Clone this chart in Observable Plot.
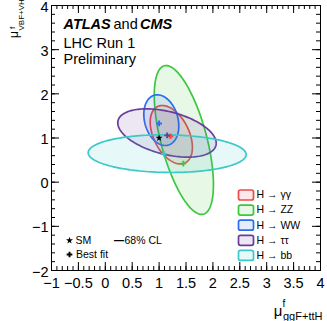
<!DOCTYPE html>
<html><head><meta charset="utf-8">
<script src="https://cdn.jsdelivr.net/npm/d3@7"></script>
<script src="https://cdn.jsdelivr.net/npm/@observablehq/plot@0.6"></script>
<style>body{margin:0;background:#fff}</style>
</head><body><div id="chart"></div>
<script>
// ---- data ----
const channels = ["H \u2192 \u03b3\u03b3", "H \u2192 ZZ", "H \u2192 WW", "H \u2192 \u03c4\u03c4", "H \u2192 bb"];
const colors = ["#ee4a4a", "#3cc83c", "#2a6ef2", "#6a3d9a", "#3cc8c8"];
// best-fit points (mu_ggF+ttH, mu_VBF+VH)
const bestGgF = [1.21, 1.45, 1.00, 1.15, 1.09];
const bestVBF = [1.04, 0.42, 1.33, 1.06, 0.64];
// 68% CL contours: centre, half-extent along each axis, correlation
const clCenterX = [1.227, 1.46, 1.041, 1.147, 1.15];
const clCenterY = [1.074, 0.955, 1.404, 1.113, 0.646];
const clHalfX = [0.392, 0.55, 0.325, 0.915, 1.468];
const clHalfY = [0.662, 1.685, 0.574, 0.547, 0.427];
const clRho = [-0.43, -0.60, -0.23, -0.42, -0.05];
// SM expectation
const smGgF = [1];
const smVBF = [1];
// axes
const xDomain = [-1, 4];
const yDomain = [-2, 4];
const xTickLabels = [-1, -0.5, 0, 0.5, 1, 1.5, 2, 2.5, 3, 3.5, 4];
const yTickLabels = [-2, -1, 0, 1, 2, 3, 4];

// ---- layout ----
const W = 327, H = 321, mL = 51, mR = 7, mT = 5, mB = 51;
const fW = W - mL - mR, fH = H - mT - mB;
const font = "'Liberation Sans', Arial, Helvetica, sans-serif";

function contour(i) {
  const pts = [], n = 160, r = clRho[i], q = Math.sqrt(1 - r * r);
  for (let k = 0; k <= n; k++) {
    const t = 2 * Math.PI * k / n, c = Math.cos(t), s = Math.sin(t);
    pts.push({x: clCenterX[i] + clHalfX[i] * c, y: clCenterY[i] + clHalfY[i] * (r * c + q * s)});
  }
  return pts;
}
const fmt = d => (d < 0 ? "\u2212" : "") + Math.abs(d);
const xMinor = d3.ticks(xDomain[0], xDomain[1], 50);
const yMinor = d3.ticks(yDomain[0], yDomain[1], 30);

const boxSymbol = {draw(ctx) {
  const w = 7.5, h = 5, r = 2;
  ctx.moveTo(-w + r, -h); ctx.lineTo(w - r, -h); ctx.arcTo(w, -h, w, -h + r, r);
  ctx.lineTo(w, h - r); ctx.arcTo(w, h, w - r, h, r);
  ctx.lineTo(-w + r, h); ctx.arcTo(-w, h, -w, h - r, r);
  ctx.lineTo(-w, -h + r); ctx.arcTo(-w, -h, -w + r, -h, r); ctx.closePath();
}};

const best = channels.map((c, i) => ({x: bestGgF[i], y: bestVBF[i], color: colors[i]}));
const sm = smGgF.map((x, i) => ({x, y: smVBF[i]}));

const marks = [];
channels.forEach((c, i) => {
  marks.push(Plot.line(contour(i), {x: "x", y: "y", stroke: colors[i], fill: colors[i], fillOpacity: 0.12, strokeWidth: 1.7}));
});
marks.push(Plot.dot(sm, {x: "x", y: "y", symbol: "star", fill: "black", r: 2.2}));
marks.push(Plot.dot(best, {x: "x", y: "y", symbol: "cross", fill: "color", r: 2.4}));
// ticks (ROOT style, inside, all four sides)
marks.push(
  Plot.ruleX(xMinor, {insetTop: fH - 4, stroke: "black"}),
  Plot.ruleX(xTickLabels, {insetTop: fH - 8, stroke: "black"}),
  Plot.ruleX(xMinor, {insetBottom: fH - 4, stroke: "black"}),
  Plot.ruleX(xTickLabels, {insetBottom: fH - 8, stroke: "black"}),
  Plot.ruleY(yMinor, {insetRight: fW - 4, stroke: "black"}),
  Plot.ruleY(yTickLabels, {insetRight: fW - 8, stroke: "black"}),
  Plot.ruleY(yMinor, {insetLeft: fW - 4, stroke: "black"}),
  Plot.ruleY(yTickLabels, {insetLeft: fW - 8, stroke: "black"}),
  Plot.frame({stroke: "black"}),
  Plot.axisX(xTickLabels, {tickSize: 0, tickPadding: 7, tickFormat: fmt, fontSize: 14.5, label: null}),
  Plot.axisY(yTickLabels, {tickSize: 0, tickPadding: 3, tickFormat: fmt, fontSize: 14.5, label: null, dy: 1.5})
);
// axis titles
marks.push(
  Plot.text(["\u03bc"], {frameAnchor: "bottom-right", text: d => d, dx: -42.5, dy: 41, fontSize: 15, textAnchor: "middle", lineAnchor: "middle"}),
  Plot.text(["f"], {frameAnchor: "bottom-right", text: d => d, dx: -36.5, dy: 33, fontSize: 10, textAnchor: "middle", lineAnchor: "middle"}),
  Plot.text(["ggF+ttH"], {frameAnchor: "bottom-right", text: d => d, dx: -37.5, dy: 45.5, fontSize: 11, textAnchor: "start", lineAnchor: "middle"}),
  Plot.text(["\u03bc"], {frameAnchor: "top-left", text: d => d, dx: -37.5, dy: 29, fontSize: 12, rotate: -90, textAnchor: "middle", lineAnchor: "middle"}),
  Plot.text(["f"], {frameAnchor: "top-left", text: d => d, dx: -39.5, dy: 22.5, fontSize: 8, rotate: -90, textAnchor: "middle", lineAnchor: "middle"}),
  Plot.text(["VBF+VH"], {frameAnchor: "top-left", text: d => d, dx: -30.5, dy: 25, fontSize: 8, rotate: -90, textAnchor: "start", lineAnchor: "middle"})
);
// experiment labels
marks.push(
  Plot.text(["ATLAS"], {frameAnchor: "top-left", text: d => d, dx: 12, dy: 19, fontSize: 14.5, fontWeight: "bold", fontStyle: "italic", textAnchor: "start", lineAnchor: "middle"}),
  Plot.text(["and"], {frameAnchor: "top-left", text: d => d, dx: 62, dy: 19, fontSize: 14.5, textAnchor: "start", lineAnchor: "middle"}),
  Plot.text(["CMS"], {frameAnchor: "top-left", text: d => d, dx: 88.5, dy: 19, fontSize: 14.5, fontWeight: "bold", fontStyle: "italic", textAnchor: "start", lineAnchor: "middle"}),
  Plot.text(["LHC Run 1"], {frameAnchor: "top-left", text: d => d, dx: 12, dy: 38, fontSize: 14.5, textAnchor: "start", lineAnchor: "middle"}),
  Plot.text(["Preliminary"], {frameAnchor: "top-left", text: d => d, dx: 12, dy: 54, fontSize: 14.5, textAnchor: "start", lineAnchor: "middle"})
);
// channel legend
channels.forEach((c, i) => {
  marks.push(
    Plot.dot([c], {frameAnchor: "bottom-right", dx: -74.5, dy: -75.5 + i * 15.1, symbol: boxSymbol, stroke: colors[i], fill: colors[i], fillOpacity: 0.12, strokeWidth: 1.7}),
    Plot.text([c], {frameAnchor: "bottom-right", text: d => d, dx: -64, dy: -75.5 + i * 15.1, fontSize: 10.5, textAnchor: "start", lineAnchor: "middle"})
  );
});
// marker legend
marks.push(
  Plot.dot(["SM"], {frameAnchor: "bottom-left", dx: 18, dy: -30, symbol: "star", fill: "black", r: 2.2}),
  Plot.text(["SM"], {frameAnchor: "bottom-left", text: d => d, dx: 24, dy: -30, fontSize: 10.5, textAnchor: "start", lineAnchor: "middle"}),
  Plot.text(["\u2014"], {frameAnchor: "bottom-left", text: d => d, dx: 62.5, dy: -30, fontSize: 10, fontWeight: "bold", textAnchor: "start", lineAnchor: "middle"}),
  Plot.text(["68% CL"], {frameAnchor: "bottom-left", text: d => d, dx: 73, dy: -30, fontSize: 10.5, textAnchor: "start", lineAnchor: "middle"}),
  Plot.dot(["Best fit"], {frameAnchor: "bottom-left", dx: 18, dy: -16, symbol: "cross", fill: "black", r: 2.4}),
  Plot.text(["Best fit"], {frameAnchor: "bottom-left", text: d => d, dx: 24.5, dy: -16, fontSize: 10.5, textAnchor: "start", lineAnchor: "middle"})
);

const chart = Plot.plot({
  width: W, height: H,
  marginLeft: mL, marginRight: mR, marginTop: mT, marginBottom: mB,
  x: {domain: xDomain, label: null},
  y: {domain: yDomain, label: null},
  color: {type: "identity"},
  style: {fontFamily: font, color: "black", background: "white", overflow: "visible"},
  marks
});
document.getElementById("chart").appendChild(chart);
</script>
</body></html>
